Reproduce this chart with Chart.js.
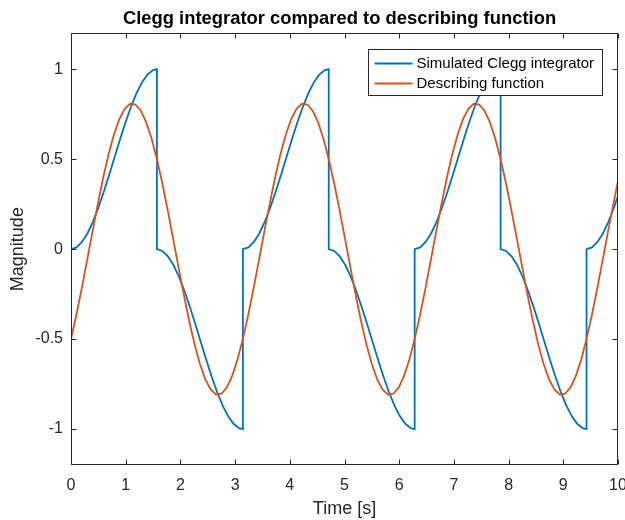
<!DOCTYPE html>
<html><head><meta charset="utf-8">
<script src="https://cdn.jsdelivr.net/npm/chart.js@4.4.1/dist/chart.umd.min.js"></script>
<style>html,body{margin:0;padding:0;background:#fff;overflow:hidden}</style>
</head><body>
<canvas id="c" width="625" height="520"></canvas>
<script>
// ---------- data ----------
const xTicks = [0,1,2,3,4,5,6,7,8,9,10];
const yTicks = [-1,-0.5,0,0.5,1];

const cleggTime = [
 0,0.1,0.2,0.3,0.4,0.5,0.6,0.7,0.8,0.9,1.0,1.1,1.2,1.3,1.4,1.5,1.571,
 1.571,1.671,1.771,1.871,1.971,2.071,2.171,2.271,2.371,2.471,2.571,2.671,2.771,2.871,2.971,3.071,3.142,
 3.142,3.242,3.342,3.442,3.542,3.642,3.742,3.842,3.942,4.042,4.142,4.242,4.342,4.442,4.542,4.642,4.712,
 4.712,4.812,4.912,5.012,5.112,5.212,5.312,5.412,5.512,5.612,5.712,5.812,5.912,6.012,6.112,6.212,6.283,
 6.283,6.383,6.483,6.583,6.683,6.783,6.883,6.983,7.083,7.183,7.283,7.383,7.483,7.583,7.683,7.783,7.854,
 7.854,7.954,8.054,8.154,8.254,8.354,8.454,8.554,8.654,8.754,8.854,8.954,9.054,9.154,9.254,9.354,9.425,
 9.425,9.525,9.625,9.725,9.825,9.925,10
];
const cleggValue = [
 0,0.010,0.040,0.087,0.152,0.230,0.319,0.415,0.515,0.614,0.708,0.794,0.869,0.928,0.971,0.995,1,
 0,-0.010,-0.040,-0.087,-0.152,-0.230,-0.319,-0.415,-0.515,-0.614,-0.708,-0.794,-0.869,-0.928,-0.971,-0.995,-1,
 0,0.010,0.040,0.087,0.152,0.230,0.319,0.415,0.515,0.614,0.708,0.794,0.869,0.928,0.971,0.995,1,
 0,-0.010,-0.040,-0.087,-0.152,-0.230,-0.319,-0.415,-0.515,-0.614,-0.708,-0.794,-0.869,-0.928,-0.971,-0.995,-1,
 0,0.010,0.040,0.087,0.152,0.230,0.319,0.415,0.515,0.614,0.708,0.794,0.869,0.928,0.971,0.995,1,
 0,-0.010,-0.040,-0.087,-0.152,-0.230,-0.319,-0.415,-0.515,-0.614,-0.708,-0.794,-0.869,-0.928,-0.971,-0.995,-1,
 0,0.010,0.040,0.087,0.152,0.230,0.296
];

const dfTime = [
 0,0.098,0.196,0.295,0.393,0.491,0.589,0.687,0.785,0.884,0.982,1.080,1.178,1.276,1.374,1.473,
 1.571,1.669,1.767,1.865,1.963,2.062,2.160,2.258,2.356,2.454,2.553,2.651,2.749,2.847,2.945,3.043,
 3.142,3.240,3.338,3.436,3.534,3.633,3.731,3.829,3.927,4.025,4.123,4.222,4.320,4.418,4.516,4.614,
 4.712,4.811,4.909,5.007,5.105,5.203,5.301,5.400,5.498,5.596,5.694,5.792,5.890,5.989,6.087,6.185,
 6.283,6.381,6.480,6.578,6.676,6.774,6.872,6.970,7.069,7.167,7.265,7.363,7.461,7.559,7.658,7.756,
 7.854,7.952,8.050,8.149,8.247,8.345,8.443,8.541,8.639,8.738,8.836,8.934,9.032,9.130,9.228,9.327,
 9.425,9.523,9.621,9.719,9.817,9.916,10
];
const dfValue = [
 -0.500,-0.366,-0.218,-0.061,0.097,0.252,0.398,0.528,0.637,0.723,0.780,0.808,0.804,0.770,0.706,0.615,
 0.500,0.366,0.218,0.061,-0.097,-0.252,-0.398,-0.528,-0.637,-0.723,-0.780,-0.808,-0.804,-0.770,-0.706,-0.615,
 -0.500,-0.366,-0.218,-0.061,0.097,0.252,0.398,0.528,0.637,0.723,0.780,0.808,0.804,0.770,0.706,0.615,
 0.500,0.366,0.218,0.061,-0.097,-0.252,-0.398,-0.528,-0.637,-0.723,-0.780,-0.808,-0.804,-0.770,-0.706,-0.615,
 -0.500,-0.366,-0.218,-0.061,0.097,0.252,0.398,0.528,0.637,0.723,0.780,0.808,0.804,0.770,0.706,0.615,
 0.500,0.366,0.218,0.061,-0.097,-0.252,-0.398,-0.528,-0.637,-0.723,-0.780,-0.808,-0.804,-0.770,-0.706,-0.615,
 -0.500,-0.366,-0.218,-0.061,0.097,0.252,0.378
];

const seriesLabels = ['Simulated Clegg integrator','Describing function'];
const titleText = 'Clegg integrator compared to describing function';
const xLabel = 'Time [s]';
const yLabel = 'Magnitude';

// ---------- style ----------
const FONT = '"Liberation Sans", Arial, Helvetica, sans-serif';
const AX = '#262626';
const BLUE = '#0072BD';
const ORANGE = '#D95319';

const frame = {
  id: 'frame',
  afterLayout(chart) {
    const t = chart.titleBlock;
    if (t) { t.left = 61; t.right = 618; }
  },
  afterDatasetsDraw(chart) {
    const {ctx, chartArea: a, scales: {x, y}} = chart;
    const L = Math.round(a.left) + 0.5, R = Math.round(a.right) - 0.5;
    const T = Math.round(a.top) + 0.5, B = Math.round(a.bottom) - 0.5;
    ctx.save();
    ctx.strokeStyle = AX; ctx.lineWidth = 1;
    ctx.beginPath();
    ctx.rect(L, T, R - L, B - T);
    const tl = 5;
    xTicks.forEach(v => {
      const px = Math.round(x.getPixelForValue(v)) + 0.5;
      ctx.moveTo(px, B); ctx.lineTo(px, B - tl);
      ctx.moveTo(px, T); ctx.lineTo(px, T + tl);
    });
    yTicks.forEach(v => {
      const py = Math.round(y.getPixelForValue(v)) + 0.5;
      ctx.moveTo(L, py); ctx.lineTo(L + tl, py);
      ctx.moveTo(R, py); ctx.lineTo(R - tl, py);
    });
    ctx.stroke();
    ctx.restore();
  },
  afterDraw(chart) {
    const {ctx, chartArea: a} = chart;
    ctx.save();
    ctx.font = '15px ' + FONT;
    const tw = Math.max(...seriesLabels.map(s => ctx.measureText(s).width));
    const w = 6 + 38 + 4 + tw + 8, h = 46;
    const bx = Math.round(a.right - 16 - w) + 0.5, by = Math.round(a.top + 16) + 0.5;
    ctx.fillStyle = '#fff';
    ctx.fillRect(bx, by, w, h);
    ctx.strokeStyle = AX; ctx.lineWidth = 1;
    ctx.strokeRect(bx, by, Math.round(w), h);
    const cols = [BLUE, ORANGE];
    seriesLabels.forEach((s, i) => {
      const ry = by + 14 + i * 20;
      ctx.strokeStyle = cols[i]; ctx.lineWidth = 1.8;
      ctx.beginPath(); ctx.moveTo(bx + 6, ry); ctx.lineTo(bx + 44, ry); ctx.stroke();
      ctx.fillStyle = '#000'; ctx.textBaseline = 'middle'; ctx.textAlign = 'left';
      ctx.fillText(s, bx + 48, ry);
    });
    ctx.restore();
  }
};

const cleggData = cleggTime.map((t, i) => ({x: t, y: cleggValue[i]}));
const dfData = dfTime.map((t, i) => ({x: t, y: dfValue[i]}));

new Chart(document.getElementById('c'), {
  type: 'scatter',
  data: {
    datasets: [
      {label: seriesLabels[0], data: cleggData, showLine: true, borderColor: BLUE, borderWidth: 1.8,
       pointRadius: 0, pointHoverRadius: 0, tension: 0, order: 2, fill: false},
      {label: seriesLabels[1], data: dfData, showLine: true, borderColor: ORANGE, borderWidth: 1.8,
       pointRadius: 0, pointHoverRadius: 0, tension: 0, order: 1, fill: false}
    ]
  },
  options: {
    responsive: false, animation: false, devicePixelRatio: 1,
    layout: {padding: {left: 0, right: 7, top: 0, bottom: 0}},
    plugins: {
      legend: {display: false},
      tooltip: {enabled: false},
      title: {display: true, text: titleText, color: '#000',
              font: {family: FONT, size: 18.4, weight: 'bold'}, padding: {top: 8, bottom: 3.2}}
    },
    scales: {
      x: {
        type: 'linear', min: 0, max: 10,
        afterBuildTicks: s => { s.ticks = xTicks.map(v => ({value: v})); },
        afterFit: s => { s.height = 55; s.paddingLeft = 0; s.paddingRight = 0; },
        ticks: {color: AX, font: {family: FONT, size: 16}, padding: 11, maxRotation: 0, autoSkip: false,
                callback: v => String(v)},
        grid: {display: false, drawTicks: false},
        border: {display: false},
        title: {display: true, text: xLabel, color: AX, font: {family: FONT, size: 18}, padding: {top: 0, bottom: 0}}
      },
      y: {
        type: 'linear', min: -1.2, max: 1.2,
        afterBuildTicks: s => { s.ticks = yTicks.map(v => ({value: v})); },
        afterFit: s => { s.width = 71; s.paddingTop = 0; s.paddingBottom = 0; },
        ticks: {color: AX, font: {family: FONT, size: 16}, padding: 8, autoSkip: false,
                callback: v => String(v)},
        grid: {display: false, drawTicks: false},
        border: {display: false},
        title: {display: true, text: yLabel, color: AX, font: {family: FONT, size: 18}, padding: {top: 7, bottom: 0}}
      }
    }
  },
  plugins: [frame]
});
</script>
</body></html>
